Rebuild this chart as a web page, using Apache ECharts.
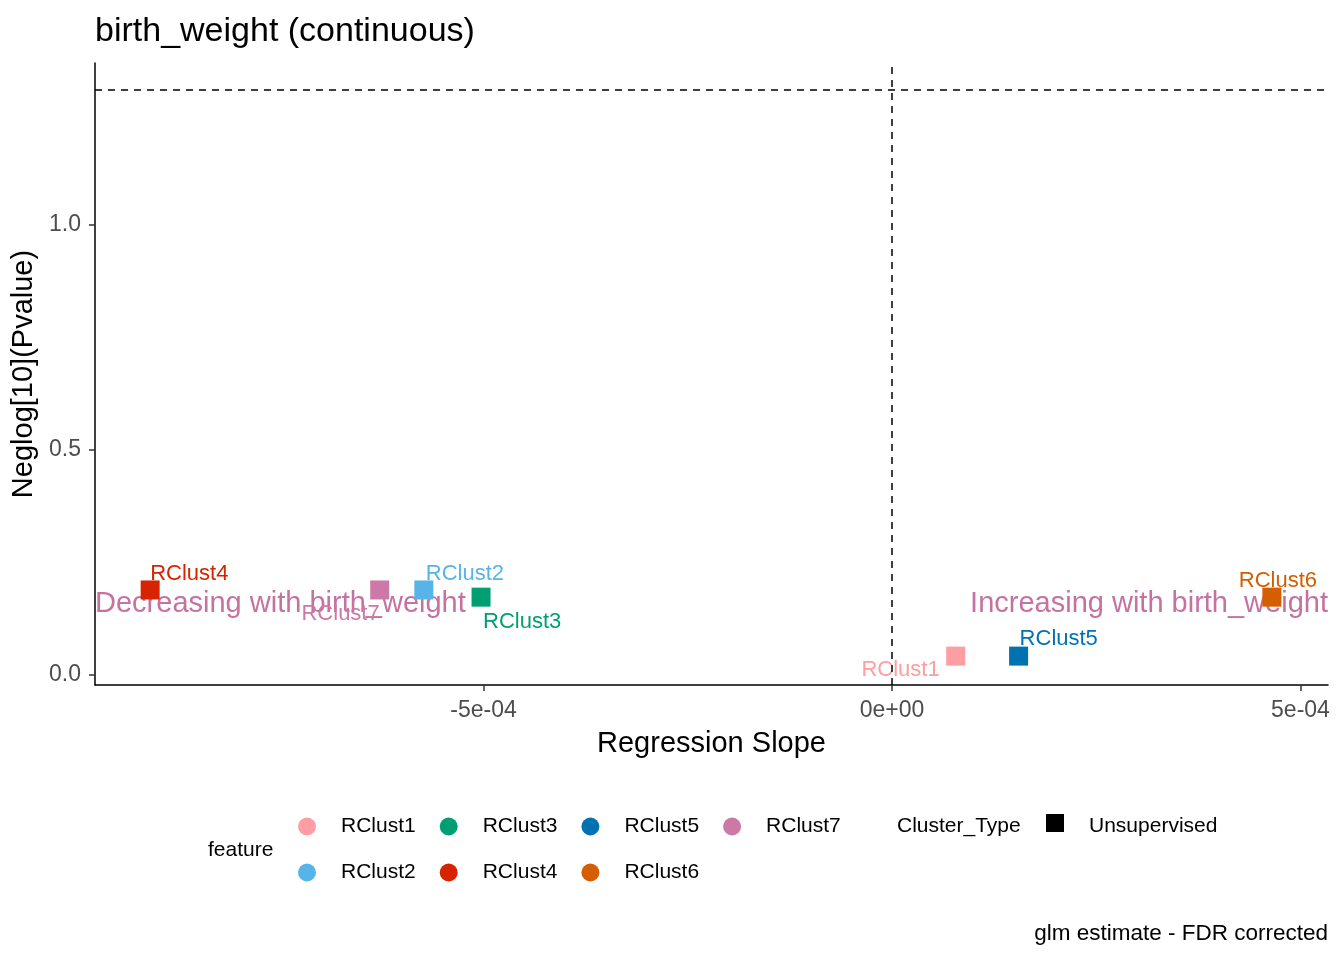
<!DOCTYPE html>
<html>
<head>
<meta charset="utf-8">
<script src="https://cdn.jsdelivr.net/npm/echarts@6/dist/echarts.min.js"></script>
<style>
  html, body { margin: 0; padding: 0; background: #fff; }
  #chart { width: 1344px; height: 960px; }
</style>
</head>
<body>
<div id="chart"></div>
<script>
// data
var features = ['RClust1', 'RClust2', 'RClust3', 'RClust4', 'RClust5', 'RClust6', 'RClust7'];
var slopes   = [7.8e-5, -5.73e-4, -5.03e-4, -9.08e-4, 1.55e-4, 4.65e-4, -6.27e-4];
var neglogP  = [0.042, 0.189, 0.173, 0.189, 0.042, 0.173, 0.189];
var colors   = ['#FF9DA2', '#56B4E9', '#009E73', '#D62300', '#0072B2', '#D55E00', '#CC79A7'];

var xTicks = [-5e-4, 0, 5e-4];
var xTickLabels = ['-5e-04', '0e+00', '5e-04'];
var yTicks = [0, 0.5, 1.0];
var yTickLabels = ['0.0', '0.5', '1.0'];
var xRange = [-9.755e-4, 5.337e-4];
var yRange = [-0.0222, 1.36];

var pThreshold = 1.301;   // -log10(0.05)
var annotTexts = ['Decreasing with birth_weight', 'Increasing with birth_weight'];
var annotY = 0.158;

var FONT = '"Liberation Sans", Arial, sans-serif';

// where each repelled label sits relative to its square (style only)
var labelPlace = {
    RClust1: { pos: [-6.5, 23.5], align: 'right' },
    RClust2: { pos: [11.5, -6.5], align: 'left' },
    RClust3: { pos: [11.5, 34.5], align: 'left' },
    RClust4: { pos: [9.5, -6.5], align: 'left' },
    RClust5: { pos: [10.5, -7.5], align: 'left' },
    RClust6: { pos: [15.5, -6.5], align: 'center' },
    RClust7: { pos: [9.5, 33.5], align: 'right' }
};

function fmtTick(ticks, labels) {
    return function (v) {
        for (var i = 0; i < ticks.length; i++) {
            if (Math.abs(v - ticks[i]) < 1e-12) return labels[i];
        }
        return '';
    };
}

var series = [];
// annotation texts + reference lines
series.push({
    type: 'scatter',
    name: '_annot',
    symbolSize: 0.1,
    itemStyle: { color: 'rgba(0,0,0,0)' },
    silent: true,
    z: 1,
    data: [
        { value: [xRange[0], annotY], label: { position: 'right', distance: 0 } },
        { value: [xRange[1], annotY], label: { position: 'left', distance: 0 } }
    ],
    label: {
        show: true,
        color: '#C672A1',
        opacity: 1,
        fontFamily: FONT,
        fontSize: 29,
        formatter: function (p) { return annotTexts[p.dataIndex]; }
    },
    markLine: {
        silent: true,
        symbol: 'none',
        label: { show: false },
        lineStyle: { color: '#000', type: [7, 6], width: 1.5 },
        data: [{ yAxis: pThreshold }, { xAxis: 0 }]
    }
});

features.forEach(function (f, i) {
    var lp = labelPlace[f];
    series.push({
        type: 'scatter',
        name: f,
        symbol: 'rect',
        symbolSize: 19,
        z: 3,
        itemStyle: { color: colors[i], opacity: 1 },
        label: {
            show: true,
            position: lp.pos,
            align: lp.align,
            verticalAlign: 'middle',
            color: colors[i],
            fontFamily: FONT,
            fontSize: 22,
            formatter: f
        },
        data: [[slopes[i], neglogP[i]]]
    });
});

// legend columns, ggplot fills the two rows column by column
var legendCols = [];
for (var c = 0; c < Math.ceil(features.length / 2); c++) {
    legendCols.push({
        orient: 'vertical',
        left: 298 + c * 141.7,
        top: 816,
        itemWidth: 18,
        itemHeight: 18,
        itemGap: 25,
        icon: 'circle',
        selectedMode: false,
        padding: 0,
        textStyle: { color: '#000', fontFamily: FONT, fontSize: 21, padding: [0, 0, 0, 20] },
        data: features.slice(c * 2, c * 2 + 2)
    });
}

var chart = echarts.init(document.getElementById('chart'));
chart.setOption({
    backgroundColor: '#fff',
    animation: false,
    title: {
        text: 'birth_weight (continuous)',
        left: 95,
        top: 15,
        padding: 0,
        textStyle: { color: '#000', fontFamily: FONT, fontSize: 34, fontWeight: 'normal' }
    },
    grid: { left: 95, right: 16, top: 63, bottom: 275 },
    xAxis: {
        type: 'value',
        min: xRange[0],
        max: xRange[1],
        name: 'Regression Slope',
        nameLocation: 'middle',
        nameGap: 44,
        nameTextStyle: { color: '#000', fontFamily: FONT, fontSize: 29 },
        splitLine: { show: false },
        axisLine: { show: true, onZero: false, lineStyle: { color: '#000', width: 1.5 } },
        axisTick: { show: true, length: 6, customValues: xTicks, lineStyle: { color: '#333', width: 1.5 } },
        axisLabel: {
            customValues: xTicks,
            formatter: fmtTick(xTicks, xTickLabels),
            color: '#4D4D4D', fontFamily: FONT, fontSize: 23, margin: 14
        }
    },
    yAxis: {
        type: 'value',
        min: yRange[0],
        max: yRange[1],
        name: 'Neglog[10](Pvalue)',
        nameLocation: 'middle',
        nameGap: 42,
        nameTextStyle: { color: '#000', fontFamily: FONT, fontSize: 29 },
        splitLine: { show: false },
        axisLine: { show: true, onZero: false, lineStyle: { color: '#000', width: 1.5 } },
        axisTick: { show: true, length: 6, customValues: yTicks, lineStyle: { color: '#333', width: 1.5 } },
        axisLabel: {
            customValues: yTicks,
            formatter: fmtTick(yTicks, yTickLabels),
            color: '#4D4D4D', fontFamily: FONT, fontSize: 23, margin: 14
        }
    },
    legend: legendCols,
    graphic: [
        { type: 'text', left: 208, top: 840, style: { text: 'feature', fill: '#000', font: '21px ' + FONT } },
        { type: 'text', left: 897, top: 816, style: { text: 'Cluster_Type', fill: '#000', font: '21px ' + FONT } },
        { type: 'rect', shape: { x: 1046, y: 814, width: 18, height: 18 }, style: { fill: '#000' } },
        { type: 'text', left: 1089, top: 816, style: { text: 'Unsupervised', fill: '#000', font: '21px ' + FONT } },
        { type: 'text', right: 16, top: 922, style: { text: 'glm estimate - FDR corrected', fill: '#000', font: '22.5px ' + FONT } }
    ],
    series: series
});
</script>
</body>
</html>
